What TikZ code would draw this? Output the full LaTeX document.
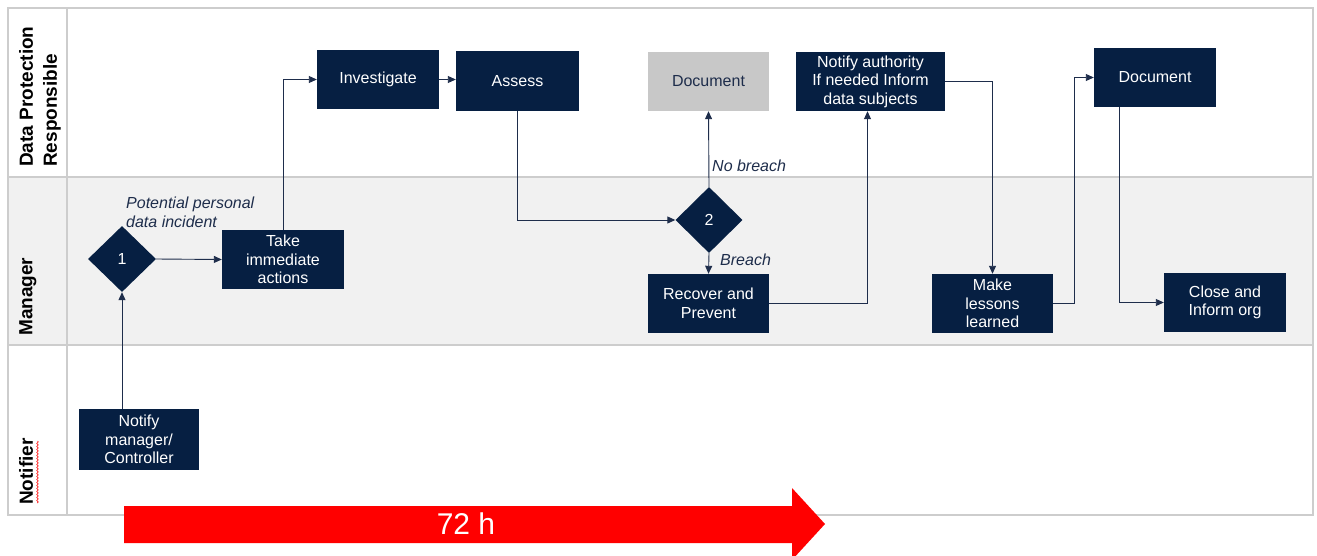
\documentclass[tikz,border=0pt]{standalone}
\usepackage{fontspec}
\setmainfont{Liberation Sans}
\usetikzlibrary{shapes.geometric,arrows.meta,decorations.pathmorphing}
\definecolor{navy}{RGB}{6,31,66}
\definecolor{linec}{RGB}{30,45,75}
\definecolor{gridc}{RGB}{205,205,205}
\definecolor{lanegrey}{RGB}{241,241,241}
\definecolor{docgrey}{RGB}{200,200,200}
\definecolor{labc}{RGB}{30,45,75}
\begin{document}
\begin{tikzpicture}[x=1pt,y=-1pt,
  box/.style={rectangle,fill=navy,text=white,minimum width=122pt,minimum height=59pt,inner sep=0pt,align=center,font=\fontsize{16}{18.5}\selectfont},
  dia/.style={diamond,fill=navy,text=white,minimum width=67pt,minimum height=66pt,inner sep=0pt,font=\fontsize{16}{18}\selectfont},
  conn/.style={draw=linec,line width=0.9pt,-{Triangle[length=8pt,width=7pt]}},
  lane/.style={rotate=90,anchor=north west,inner sep=0pt,align=left,font=\fontsize{19}{24}\selectfont\bfseries,text=black},
  lab/.style={inner sep=0pt,align=left,text=labc,font=\fontsize{16}{19}\selectfont\itshape}]
\useasboundingbox (0,0) rectangle (1317,555);
\fill[white] (0,0) rectangle (1317,555);
% lanes
\fill[lanegrey] (8,177) rectangle (1313,345);
\draw[gridc,line width=1.3pt] (8,8) rectangle (1313,515);
\draw[gridc,line width=1.3pt] (8,177) -- (1313,177);
\draw[gridc,line width=1.3pt] (8,345) -- (1313,345);
\draw[gridc,line width=1.3pt] (67,8) -- (67,515);
\node[lane] (l1) at (19,167) {Data Protection\\Responsible};
\node[lane] (l2) at (19,336) {Manager};
\node[lane] (l3) at (19,505) {Notifier};
\draw[red,line width=0.6pt,decorate,decoration={snake,amplitude=0.8pt,segment length=3pt}] (37.5,441) -- (37.5,503);
% nodes
\node[box,minimum width=120pt,minimum height=61pt] (notify) at (139,439.5) {Notify\\manager/\\Controller};
\node[dia,minimum width=68pt] (d1) at (122,259) {1};
\node[box] (take) at (283,259.5) {Take\\immediate\\actions};
\node[box] (invest) at (378,79.5) {Investigate};
\node[box,minimum width=123pt,minimum height=60pt] (assess) at (517.5,81) {Assess};
\node[box,fill=docgrey,text=labc,minimum width=121pt] (doc1) at (708.5,81.5) {Document};
\node[box,minimum width=149pt] (auth) at (870.5,81.5) {Notify authority\\If needed Inform\\data subjects};
\node[dia] (d2) at (709,220) {2};
\node[box,minimum width=121pt] (recover) at (708.5,303.5) {Recover and\\Prevent};
\node[box,minimum width=121pt] (lessons) at (992.5,303.5) {Make\\lessons\\learned};
\node[box] (doc2) at (1155,77.5) {Document};
\node[box] (close) at (1225,302.5) {Close and\\Inform org};
% labels
\node[lab,anchor=west] (lpot) at (126,212) {Potential personal\\data incident};
\node[lab,anchor=west] (lnob) at (712,166) {No breach};
\node[lab,anchor=west] (lbr) at (720,260) {Breach};
% connectors
\draw[conn] (d1.south |- notify.north) -- (d1.south);
\draw[conn] (d1.east) -- (take.west);
\draw[conn] (take.north) |- (invest.west);
\draw[conn] (invest.east) -- (invest.east -| assess.west);
\draw[conn] (assess.south) |- (d2.west);
\draw[conn] (d2.north) -- (doc1.south);
\draw[conn] (d2.south) -- (recover.north);
\draw[conn] (recover.east) -| ([xshift=-3pt]auth.south);
\draw[conn] (auth.east) -| (lessons.north);
\coordinate (ljog) at ([xshift=21pt]lessons.east);
\draw[conn] (lessons.east) -- (ljog) |- (doc2.west);
\coordinate (dout) at ([xshift=-36pt]doc2.south);
\draw[conn] (dout) |- (close.west);
% 72 h arrow
\begin{scope}
\clip (0,0) rectangle (1317,555);
\fill[red] (124,506) -- (792,506) -- (792,488) -- (825,524) -- (792,560) -- (792,543) -- (124,543) -- cycle;
\end{scope}
\node[text=white,inner sep=0pt,font=\fontsize{30}{30}\selectfont] (h72) at (466,524) {72 h};
\end{tikzpicture}
\end{document}
